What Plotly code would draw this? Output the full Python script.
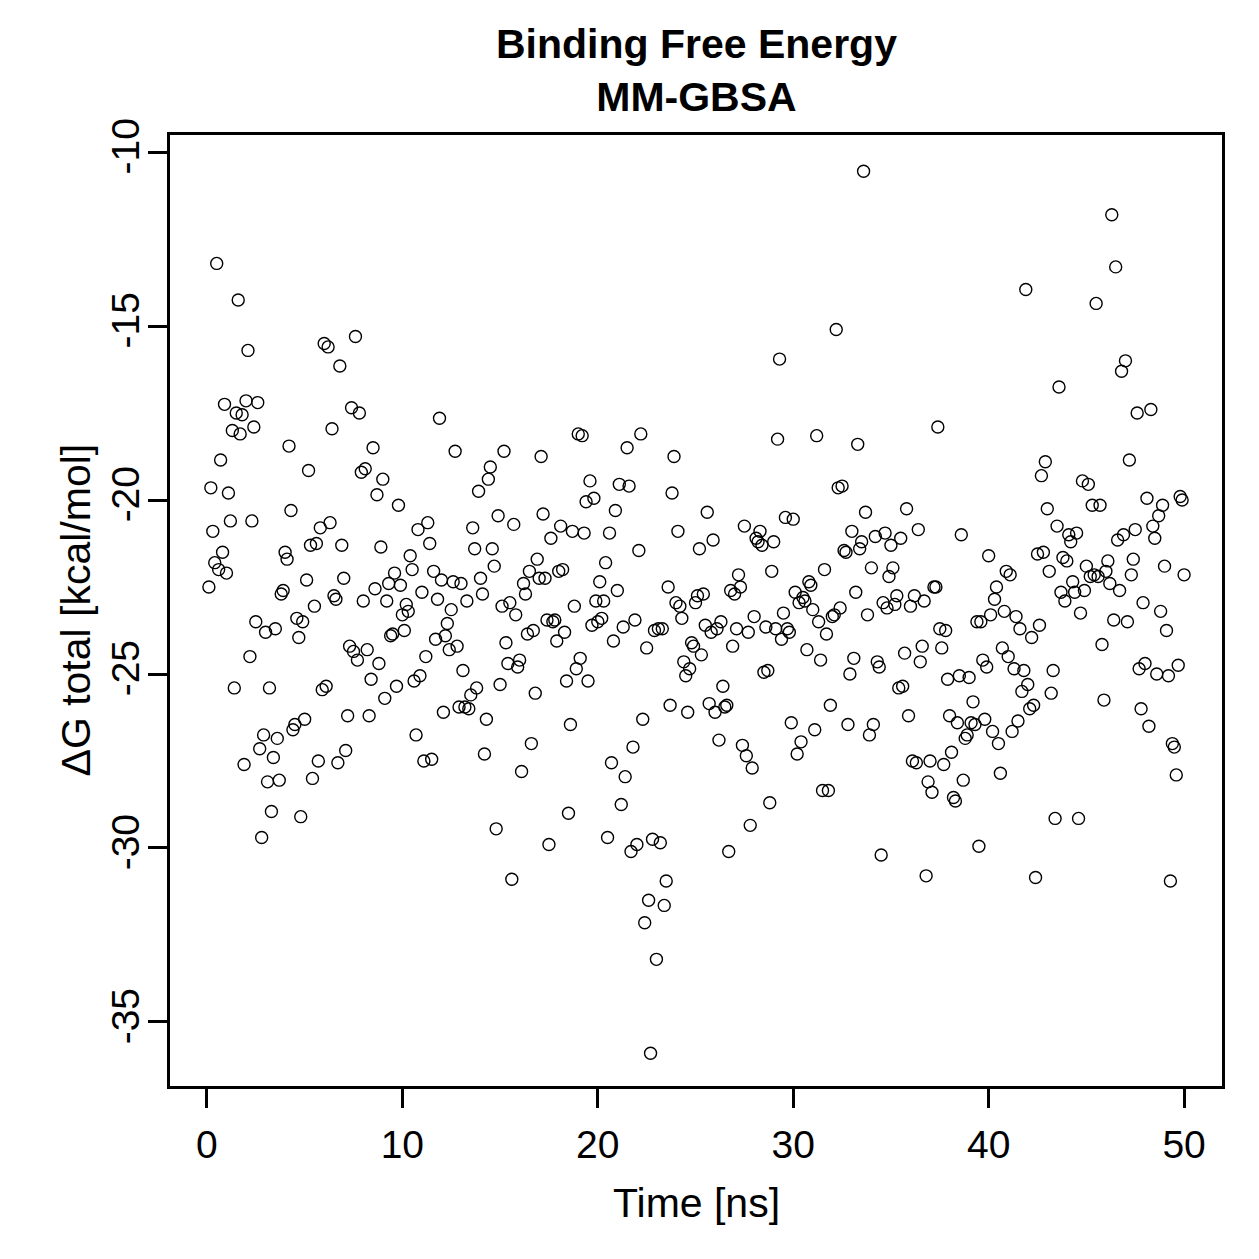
import plotly.graph_objects as go

title_text = "Binding Free Energy<br>MM-GBSA"
x_label = "Time [ns]"
y_label = "ΔG total [kcal/mol]"
x_tick_vals = [0, 10, 20, 30, 40, 50]
x_tick_text = ["0", "10", "20", "30", "40", "50"]
y_tick_vals = [-10, -15, -20, -25, -30, -35]
y_tick_text = ["-10", "-15", "-20", "-25", "-30", "-35"]

time_ns = [
    0.1, 0.2, 0.3, 0.4, 0.5, 0.6, 0.7, 0.8, 0.9, 1.0, 1.1, 1.2, 1.3, 1.4, 1.5, 1.6, 1.7, 1.8, 1.9, 2.0,
    2.1, 2.2, 2.3, 2.4, 2.5, 2.6, 2.7, 2.8, 2.9, 3.0, 3.1, 3.2, 3.3, 3.4, 3.5, 3.6, 3.7, 3.8, 3.9, 4.0,
    4.1, 4.2, 4.3, 4.4, 4.5, 4.6, 4.7, 4.8, 4.9, 5.0, 5.1, 5.2, 5.3, 5.4, 5.5, 5.6, 5.7, 5.8, 5.9, 6.0,
    6.1, 6.2, 6.3, 6.4, 6.5, 6.6, 6.7, 6.8, 6.9, 7.0, 7.1, 7.2, 7.3, 7.4, 7.5, 7.6, 7.7, 7.8, 7.9, 8.0,
    8.1, 8.2, 8.3, 8.4, 8.5, 8.6, 8.7, 8.8, 8.9, 9.0, 9.1, 9.2, 9.3, 9.4, 9.5, 9.6, 9.7, 9.8, 9.9, 10.0,
    10.1, 10.2, 10.3, 10.4, 10.5, 10.6, 10.7, 10.8, 10.9, 11.0, 11.1, 11.2, 11.3, 11.4, 11.5, 11.6, 11.7, 11.8, 11.9, 12.0,
    12.1, 12.2, 12.3, 12.4, 12.5, 12.6, 12.7, 12.8, 12.9, 13.0, 13.1, 13.2, 13.3, 13.4, 13.5, 13.6, 13.7, 13.8, 13.9, 14.0,
    14.1, 14.2, 14.3, 14.4, 14.5, 14.6, 14.7, 14.8, 14.9, 15.0, 15.1, 15.2, 15.3, 15.4, 15.5, 15.6, 15.7, 15.8, 15.9, 16.0,
    16.1, 16.2, 16.3, 16.4, 16.5, 16.6, 16.7, 16.8, 16.9, 17.0, 17.1, 17.2, 17.3, 17.4, 17.5, 17.6, 17.7, 17.8, 17.9, 18.0,
    18.1, 18.2, 18.3, 18.4, 18.5, 18.6, 18.7, 18.8, 18.9, 19.0, 19.1, 19.2, 19.3, 19.4, 19.5, 19.6, 19.7, 19.8, 19.9, 20.0,
    20.1, 20.2, 20.3, 20.4, 20.5, 20.6, 20.7, 20.8, 20.9, 21.0, 21.1, 21.2, 21.3, 21.4, 21.5, 21.6, 21.7, 21.8, 21.9, 22.0,
    22.1, 22.2, 22.3, 22.4, 22.5, 22.6, 22.7, 22.8, 22.9, 23.0, 23.1, 23.2, 23.3, 23.4, 23.5, 23.6, 23.7, 23.8, 23.9, 24.0,
    24.1, 24.2, 24.3, 24.4, 24.5, 24.6, 24.7, 24.8, 24.9, 25.0, 25.1, 25.2, 25.3, 25.4, 25.5, 25.6, 25.7, 25.8, 25.9, 26.0,
    26.1, 26.2, 26.3, 26.4, 26.5, 26.6, 26.7, 26.8, 26.9, 27.0, 27.1, 27.2, 27.3, 27.4, 27.5, 27.6, 27.7, 27.8, 27.9, 28.0,
    28.1, 28.2, 28.3, 28.4, 28.5, 28.6, 28.7, 28.8, 28.9, 29.0, 29.1, 29.2, 29.3, 29.4, 29.5, 29.6, 29.7, 29.8, 29.9, 30.0,
    30.1, 30.2, 30.3, 30.4, 30.5, 30.6, 30.7, 30.8, 30.9, 31.0, 31.1, 31.2, 31.3, 31.4, 31.5, 31.6, 31.7, 31.8, 31.9, 32.0,
    32.1, 32.2, 32.3, 32.4, 32.5, 32.6, 32.7, 32.8, 32.9, 33.0, 33.1, 33.2, 33.3, 33.4, 33.5, 33.6, 33.7, 33.8, 33.9, 34.0,
    34.1, 34.2, 34.3, 34.4, 34.5, 34.6, 34.7, 34.8, 34.9, 35.0, 35.1, 35.2, 35.3, 35.4, 35.5, 35.6, 35.7, 35.8, 35.9, 36.0,
    36.1, 36.2, 36.3, 36.4, 36.5, 36.6, 36.7, 36.8, 36.9, 37.0, 37.1, 37.2, 37.3, 37.4, 37.5, 37.6, 37.7, 37.8, 37.9, 38.0,
    38.1, 38.2, 38.3, 38.4, 38.5, 38.6, 38.7, 38.8, 38.9, 39.0, 39.1, 39.2, 39.3, 39.4, 39.5, 39.6, 39.7, 39.8, 39.9, 40.0,
    40.1, 40.2, 40.3, 40.4, 40.5, 40.6, 40.7, 40.8, 40.9, 41.0, 41.1, 41.2, 41.3, 41.4, 41.5, 41.6, 41.7, 41.8, 41.9, 42.0,
    42.1, 42.2, 42.3, 42.4, 42.5, 42.6, 42.7, 42.8, 42.9, 43.0, 43.1, 43.2, 43.3, 43.4, 43.5, 43.6, 43.7, 43.8, 43.9, 44.0,
    44.1, 44.2, 44.3, 44.4, 44.5, 44.6, 44.7, 44.8, 44.9, 45.0, 45.1, 45.2, 45.3, 45.4, 45.5, 45.6, 45.7, 45.8, 45.9, 46.0,
    46.1, 46.2, 46.3, 46.4, 46.5, 46.6, 46.7, 46.8, 46.9, 47.0, 47.1, 47.2, 47.3, 47.4, 47.5, 47.6, 47.7, 47.8, 47.9, 48.0,
    48.1, 48.2, 48.3, 48.4, 48.5, 48.6, 48.7, 48.8, 48.9, 49.0, 49.1, 49.2, 49.3, 49.4, 49.5, 49.6, 49.7, 49.8, 49.9, 50.0,
]

dg_total = [
    -22.5, -19.65, -20.9, -21.8, -13.2, -22.0, -18.85, -21.5, -17.25, -22.1,
    -19.8, -20.6, -18.0, -25.4, -17.5, -14.25, -18.1, -17.55, -27.6, -17.15,
    -15.7, -24.5, -20.6, -17.9, -23.5, -17.2, -27.15, -29.7, -26.75, -23.8,
    -28.1, -25.4, -28.95, -27.4, -23.7, -26.85, -28.05, -22.7, -22.6, -21.5,
    -21.7, -18.45, -20.3, -26.6, -26.45, -23.4, -23.95, -29.1, -23.5, -26.3, -22.3,
    -19.15, -21.3, -28.0, -23.05, -21.25, -27.5, -20.8, -25.45, -15.5, -25.35,
    -15.6, -20.65, -17.95, -22.75, -22.85, -27.55, -16.15, -21.3, -22.25, -27.2,
    -26.2, -24.2, -17.35, -24.35, -15.3, -24.6, -17.5, -19.2, -22.9, -19.1,
    -24.3, -26.2, -25.15, -18.5, -22.55, -19.85, -24.7, -21.35, -19.4, -25.7,
    -22.9, -22.4, -23.9, -23.85, -22.1, -25.35, -20.15, -22.45, -23.3, -23.75, -23.0,
    -23.2, -21.6, -22.0, -25.2, -26.75, -20.85, -25.05, -22.65, -27.5, -24.5,
    -20.65, -21.25, -27.45, -22.05, -24.0, -22.85, -17.65, -22.3, -26.1, -23.9,
    -23.55, -24.3, -23.15, -22.35, -18.6, -24.2, -25.95, -22.4, -24.9, -25.95,
    -22.9, -26.0, -25.6, -20.8, -21.4, -25.4, -19.75, -22.25, -22.7, -27.3,
    -26.3, -19.4, -19.05, -21.4, -21.9, -29.45, -20.45, -25.3, -23.05, -18.6, -24.1,
    -24.7, -22.95, -30.9, -20.7, -23.3, -24.8, -24.6, -27.8, -22.4, -22.7,
    -23.85, -22.05, -27.0, -23.75, -25.55, -21.7, -22.25, -18.75, -20.4, -22.25,
    -23.45, -29.9, -21.1, -23.5, -23.45, -24.05, -22.05, -20.75, -22.0, -23.8,
    -25.2, -29.0, -26.45, -20.9, -23.05, -24.85, -18.1, -24.55, -18.15, -20.95,
    -20.05, -25.2, -19.45, -23.6, -19.95, -22.9, -23.5, -22.35, -23.4, -22.9, -21.8,
    -29.7, -20.95, -27.55, -24.05, -20.3, -22.6, -19.55, -28.75, -23.65, -27.95,
    -18.5, -19.6, -30.1, -27.1, -23.45, -29.9, -21.45, -18.1, -26.3, -32.15,
    -24.25, -31.5, -35.9, -29.75, -23.75, -33.2, -23.7, -29.85, -23.7, -31.65,
    -30.95, -22.5, -25.9, -19.8, -18.75, -22.95, -20.9, -23.05, -23.4, -24.65,
    -25.05, -26.1, -24.85, -24.1, -24.2, -22.95, -22.75, -21.4, -24.45, -22.7, -23.6,
    -20.35, -25.85, -23.8, -21.15, -26.1, -23.7, -26.9, -23.5, -25.35, -25.95,
    -25.9, -30.1, -22.6, -24.2, -22.7, -23.7, -22.15, -22.5, -27.05, -20.75,
    -27.35, -23.8, -29.35, -27.7, -23.35, -21.1, -21.2, -20.9, -21.3, -24.95,
    -23.65, -24.9, -28.7, -22.05, -21.2, -23.7, -18.25, -15.95, -24.0, -23.25,
    -20.5, -23.7, -23.8, -26.4, -20.55, -22.65, -27.3, -22.95, -26.95, -22.8, -22.9,
    -24.3, -22.35, -22.45, -23.15, -26.6, -18.15, -23.5, -24.6, -28.35, -22.0,
    -23.85, -28.35, -25.9, -23.35, -23.3, -15.1, -19.65, -23.1, -19.6, -21.45,
    -21.5, -26.45, -25.0, -20.9, -24.55, -22.65, -18.4, -21.4, -21.2, -10.55,
    -20.35, -23.3, -26.75, -21.95, -26.45, -21.05, -24.65, -24.8, -30.2, -22.95,
    -20.95, -23.1, -22.2, -21.3, -21.95, -23.0, -22.75, -25.4, -21.1, -25.35, -24.4,
    -20.25, -26.2, -23.05, -27.5, -22.75, -27.55, -20.85, -24.65, -24.2, -22.9,
    -30.8, -28.1, -27.5, -28.4, -22.5, -22.5, -17.9, -23.7, -24.25, -27.6,
    -23.75, -25.15, -26.2, -27.25, -28.55, -28.65, -26.4, -25.05, -21.0, -28.05,
    -26.85, -26.75, -25.1, -26.4, -25.8, -26.45, -23.5, -29.95, -23.5, -24.6,
    -26.3, -24.8, -21.6, -23.3, -26.65, -22.85, -22.5, -27.0, -27.85, -24.25, -23.2,
    -22.05, -24.5, -22.15, -26.65, -24.85, -23.35, -26.35, -23.7, -25.5, -24.9,
    -13.95, -25.3, -26.0, -23.95, -25.9, -30.85, -21.55, -23.6, -19.3, -21.5,
    -18.9, -20.25, -22.05, -25.55, -24.9, -29.15, -20.75, -16.75, -22.65, -21.65,
    -22.9, -21.75, -21.0, -21.2, -22.35, -22.65, -20.95, -29.15, -23.25, -19.45, -22.6,
    -21.9, -19.55, -22.2, -20.15, -22.15, -14.35, -22.2, -20.15, -24.15, -25.75,
    -22.05, -21.75, -22.4, -11.8, -23.45, -13.3, -21.15, -22.6, -16.3, -21.0,
    -16.0, -23.5, -18.85, -22.15, -21.7, -20.85, -17.5, -24.85, -26.0, -22.95,
    -24.7, -19.95, -26.5, -17.4, -20.75, -21.1, -25.0, -20.45, -23.2, -20.15, -21.9,
    -23.75, -25.05, -30.95, -27.0, -27.1, -27.9, -24.75, -19.9, -20.0, -22.15,
]

n = min(len(time_ns), len(dg_total))

fig = go.Figure(
    go.Scatter(
        x=time_ns[:n],
        y=dg_total[:n],
        mode="markers",
        marker=dict(
            symbol="circle-open",
            size=12,
            color="black",
            line=dict(width=1.4, color="black"),
        ),
        hoverinfo="x+y",
    )
)

font_family = "Liberation Sans, Arial, Helvetica, sans-serif"

fig.update_layout(
    width=1259,
    height=1259,
    autosize=False,
    margin=dict(l=170, r=37, t=135, b=173, pad=0),
    plot_bgcolor="white",
    paper_bgcolor="white",
    showlegend=False,
    font=dict(family=font_family, size=40, color="black"),
)

fig.update_xaxes(
    range=[-1.89, 51.94],
    tickmode="array",
    tickvals=x_tick_vals,
    ticktext=x_tick_text,
    ticks="outside",
    ticklen=19,
    tickwidth=2.5,
    tickcolor="black",
    showline=True,
    linewidth=2.5,
    linecolor="black",
    mirror=True,
    showgrid=False,
    zeroline=False,
    tickfont=dict(family=font_family, size=39, color="black"),
    ticklabelstandoff=3,
)

fig.update_yaxes(
    range=[-36.84, -9.51],
    tickmode="array",
    tickvals=y_tick_vals,
    ticktext=y_tick_text,
    ticks="outside",
    ticklen=19,
    tickwidth=2.5,
    tickcolor="black",
    showline=True,
    linewidth=2.5,
    linecolor="black",
    mirror=True,
    showgrid=False,
    zeroline=False,
    tickangle=-90,
    tickfont=dict(family=font_family, size=39, color="black"),
    ticklabelstandoff=-6,
)

fig.add_annotation(
    text="<b>" + title_text + "</b>",
    xref="paper", yref="paper",
    x=0.5, y=1.0673,
    xanchor="center", yanchor="middle",
    showarrow=False,
    font=dict(family=font_family, size=41, color="black"),
)

fig.add_annotation(
    text=x_label,
    xref="paper", yref="paper",
    x=0.5, y=-0.123,
    xanchor="center", yanchor="middle",
    showarrow=False,
    font=dict(family=font_family, size=41, color="black"),
)

fig.add_annotation(
    text=y_label,
    xref="paper", yref="paper",
    x=-0.0903, y=0.5,
    xanchor="center", yanchor="middle",
    textangle=-90,
    showarrow=False,
    font=dict(family=font_family, size=41, color="black"),
)

fig.write_html("out.html")
